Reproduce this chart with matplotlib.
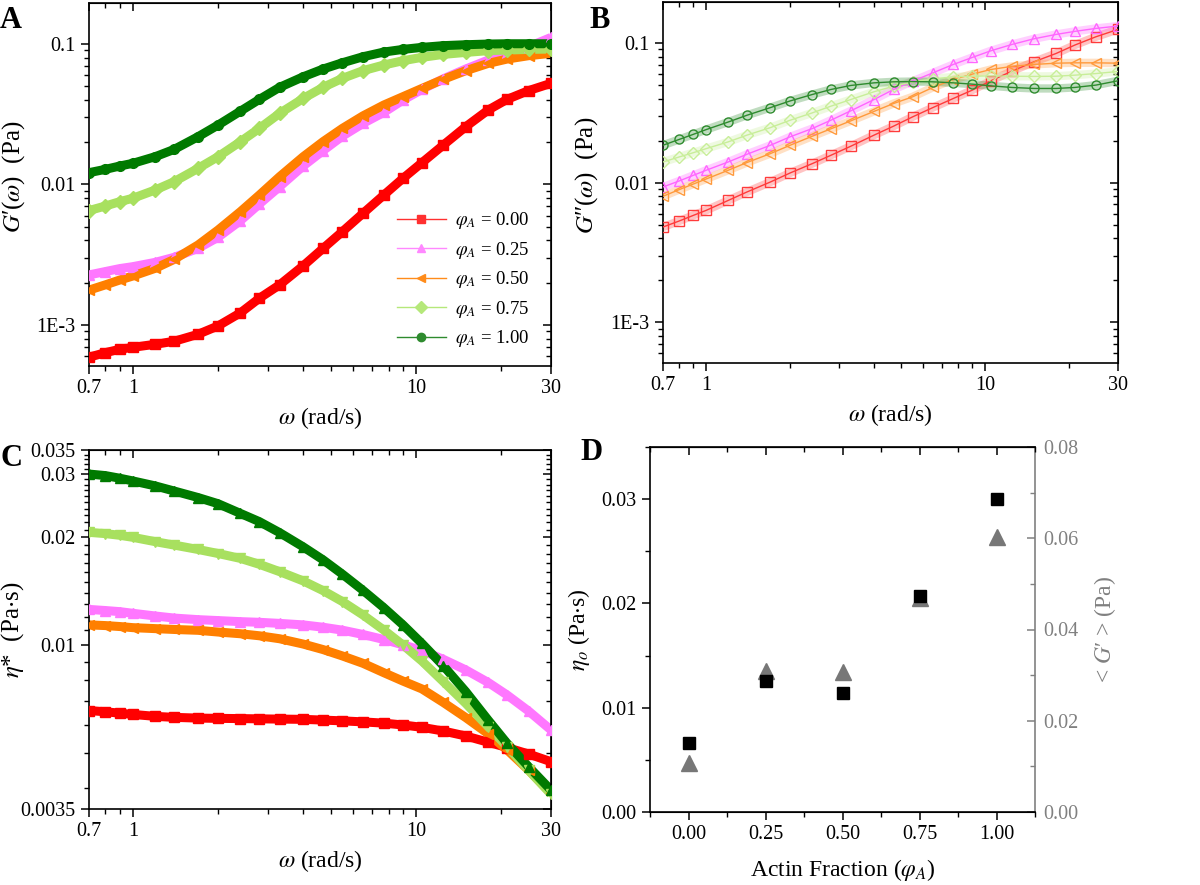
import matplotlib
matplotlib.use("Agg")
import matplotlib.pyplot as plt
from matplotlib.lines import Line2D
from matplotlib.ticker import FixedLocator, FixedFormatter, NullFormatter, MultipleLocator

plt.rcParams['font.family'] = ['Liberation Serif', 'DejaVu Serif']
plt.rcParams['mathtext.fontset'] = 'stix'

# ---------------- data ----------------
omega = [0.7, 0.8, 0.9, 1.0, 1.2, 1.4, 1.7, 2.0, 2.4, 2.8, 3.3, 4.0, 4.7, 5.5, 6.5, 7.7,
         9.0, 10.5, 12.5, 15.0, 18.0, 21.0, 25.0, 30.0]
phi_labels = ['0.00', '0.25', '0.50', '0.75', '1.00']

# G'(omega) (Pa)
Gp_000 = [5.89e-4, 6.35e-4, 6.71e-4, 6.93e-4, 7.28e-4, 7.65e-4, 8.58e-4, 9.84e-4, 1.22e-3, 1.55e-3,
          1.93e-3, 2.64e-3, 3.51e-3, 4.62e-3, 6.23e-3, 8.41e-3, 0.01106, 0.01429, 0.0191, 0.0258,
          0.0339, 0.0404, 0.0466, 0.0525]
Gp_025 = [2.27e-3, 2.40e-3, 2.52e-3, 2.60e-3, 2.79e-3, 3.03e-3, 3.51e-3, 4.21e-3, 5.53e-3, 7.27e-3,
          9.65e-3, 0.01355, 0.01742, 0.0221, 0.0272, 0.0326, 0.0399, 0.0475, 0.0566, 0.0664,
          0.0769, 0.0859, 0.0957, 0.1114]
Gp_050 = [1.77e-3, 1.93e-3, 2.09e-3, 2.23e-3, 2.53e-3, 2.93e-3, 3.71e-3, 4.74e-3, 6.41e-3, 8.42e-3,
          0.01137, 0.01578, 0.0202, 0.0251, 0.0308, 0.0368, 0.0422, 0.0483, 0.0561, 0.0646,
          0.0728, 0.0782, 0.0826, 0.0859]
Gp_075 = [6.52e-3, 7.03e-3, 7.55e-3, 7.98e-3, 9.14e-3, 0.01048, 0.01303, 0.01578, 0.0202, 0.0251,
          0.0321, 0.0410, 0.0492, 0.0570, 0.0646, 0.0709, 0.0761, 0.0804, 0.0844, 0.0872,
          0.0897, 0.0906, 0.0916, 0.0921]
Gp_100 = [0.01214, 0.01282, 0.01354, 0.01415, 0.01578, 0.01779, 0.0219, 0.0265, 0.0333, 0.0404,
          0.0492, 0.0585, 0.0664, 0.0736, 0.0812, 0.0877, 0.0916, 0.0947, 0.0974, 0.0989,
          0.1000, 0.1005, 0.1005, 0.1005]

# G''(omega) (Pa)
Gpp_000 = [4.81e-3, 5.31e-3, 5.83e-3, 6.33e-3, 7.46e-3, 8.57e-3, 0.01011, 0.01173, 0.01368, 0.0157,
           0.01823, 0.0219, 0.0254, 0.0296, 0.0345, 0.0401, 0.0460, 0.0537, 0.0630, 0.0735,
           0.0843, 0.0968, 0.1110, 0.1253]
Gpp_025 = [9.31e-3, 0.01028, 0.01129, 0.01227, 0.01407, 0.01597, 0.01853, 0.0213, 0.0244, 0.0280,
           0.0327, 0.0394, 0.0465, 0.0533, 0.0612, 0.0703, 0.0789, 0.0881, 0.0978, 0.1074,
           0.1154, 0.1213, 0.1274, 0.1325]
Gpp_050 = [7.98e-3, 8.91e-3, 9.78e-3, 0.01062, 0.01227, 0.01393, 0.01615, 0.01853, 0.0215, 0.0243,
           0.0277, 0.0324, 0.0369, 0.0412, 0.0481, 0.0548, 0.0599, 0.0647, 0.0681, 0.0703,
           0.0718, 0.0722, 0.0722, 0.0718]
Gpp_075 = [0.01406, 0.01528, 0.0164, 0.01753, 0.0196, 0.0219, 0.0248, 0.0280, 0.0316, 0.0353,
           0.0394, 0.0448, 0.0491, 0.0527, 0.0554, 0.0573, 0.0579, 0.0582, 0.0579, 0.0577,
           0.0579, 0.0589, 0.0605, 0.0626]
Gpp_100 = [0.01854, 0.0204, 0.0222, 0.0240, 0.0272, 0.0304, 0.0345, 0.0385, 0.0428, 0.0465,
           0.0497, 0.0519, 0.0528, 0.0530, 0.0528, 0.0519, 0.0508, 0.0494, 0.0481, 0.0473,
           0.0473, 0.0481, 0.0500, 0.0537]

# eta*(omega) (Pa s)
eta_000 = [6.58e-3, 6.53e-3, 6.47e-3, 6.42e-3, 6.34e-3, 6.30e-3, 6.27e-3, 6.26e-3, 6.25e-3, 6.24e-3,
           6.23e-3, 6.22e-3, 6.19e-3, 6.16e-3, 6.12e-3, 6.07e-3, 6.00e-3, 5.91e-3, 5.77e-3, 5.59e-3,
           5.37e-3, 5.19e-3, 4.98e-3, 4.74e-3]
eta_025 = [0.01259, 0.01250, 0.01241, 0.01228, 0.01207, 0.01191, 0.01179, 0.01172, 0.01164, 0.01159,
           0.01151, 0.01140, 0.01123, 0.01102, 0.01072, 0.01038, 0.01003, 9.67e-3, 9.14e-3, 8.54e-3,
           7.88e-3, 7.27e-3, 6.56e-3, 5.81e-3]
eta_050 = [0.01140, 0.01135, 0.01128, 0.01120, 0.01113, 0.01107, 0.01101, 0.01089, 0.01077, 0.01063,
           0.01043, 0.01008, 9.73e-3, 9.34e-3, 8.91e-3, 8.39e-3, 7.95e-3, 7.56e-3, 6.93e-3, 6.29e-3,
           5.67e-3, 5.11e-3, 4.49e-3, 3.87e-3]
eta_075 = [0.02064, 0.02047, 0.02025, 0.01999, 0.01944, 0.01902, 0.01849, 0.01802, 0.01746, 0.01681,
           0.01604, 0.01511, 0.01420, 0.01324, 0.01215, 0.01103, 0.01002, 9.04e-3, 7.92e-3, 6.89e-3,
           5.93e-3, 5.22e-3, 4.49e-3, 3.85e-3]
eta_100 = [0.0300, 0.0297, 0.0292, 0.0287, 0.0278, 0.0269, 0.0258, 0.0248, 0.0233, 0.0221,
           0.0206, 0.0188, 0.0173, 0.01578, 0.01423, 0.01273, 0.01140, 0.01012, 8.77e-3, 7.43e-3,
           6.19e-3, 5.33e-3, 4.59e-3, 3.95e-3]

# Panel D
actin_fraction = [0.0, 0.25, 0.5, 0.75, 1.0]
eta0 = [0.00665, 0.01254, 0.01138, 0.0207, 0.0300]
G_mean = [0.0107, 0.0309, 0.0307, 0.0469, 0.0603]

# ---------------- style ----------------
colors_fill = ['#FF0000', '#FF77FF', '#FF7F00', '#A8E05F', '#007A00']
colors_open = ['#FF3B3B', '#FF66FF', '#FF9A3C', '#C8EE99', '#2E8B2E']
markers_A = ['s', '^', '<', 'D', 'o']
markers_C = ['s', '^', '<', 'v', '^']

fig = plt.figure(figsize=(12, 8.85), dpi=100)
W, H = 1200.0, 885.0


def add_ax(x0, y0, x1, y1):
    return fig.add_axes([x0 / W, 1 - y1 / H, (x1 - x0) / W, (y1 - y0) / H])


TICK_FS = 14.5
LABEL_FS = 17
YLABEL_FS = 18

xmaj = [0.7, 1, 10, 30]
xmin = [0.8, 0.9, 2, 3, 4, 5, 6, 7, 8, 9, 20]


def style_freq_axes(ax, ymaj, ylabels, ymin):
    ax.set_xscale('log')
    ax.set_yscale('log')
    ax.set_xlim(0.7, 30)
    ax.xaxis.set_major_locator(FixedLocator(xmaj))
    ax.xaxis.set_major_formatter(FixedFormatter(['0.7', '1', '10', '30']))
    ax.xaxis.set_minor_locator(FixedLocator(xmin))
    ax.xaxis.set_minor_formatter(NullFormatter())
    ax.yaxis.set_major_locator(FixedLocator(ymaj))
    ax.yaxis.set_major_formatter(FixedFormatter(ylabels))
    ax.yaxis.set_minor_locator(FixedLocator(ymin))
    ax.yaxis.set_minor_formatter(NullFormatter())
    ax.tick_params(which='major', direction='out', length=6, width=1.1, labelsize=TICK_FS)
    ax.tick_params(which='minor', direction='out', length=3.5, width=1.0)
    for s in ax.spines.values():
        s.set_linewidth(1.2)
    top = ax.secondary_xaxis('top')
    top.xaxis.set_major_locator(FixedLocator(xmaj))
    top.xaxis.set_minor_locator(FixedLocator(xmin))
    top.xaxis.set_major_formatter(NullFormatter())
    top.xaxis.set_minor_formatter(NullFormatter())
    top.tick_params(which='major', direction='in', length=6, width=1.1)
    top.tick_params(which='minor', direction='in', length=3.5, width=1.0)
    right = ax.secondary_yaxis('right')
    right.yaxis.set_major_locator(FixedLocator(ymaj))
    right.yaxis.set_minor_locator(FixedLocator(ymin))
    right.yaxis.set_major_formatter(NullFormatter())
    right.yaxis.set_minor_formatter(NullFormatter())
    right.tick_params(which='major', direction='in', length=6, width=1.1)
    right.tick_params(which='minor', direction='in', length=3.5, width=1.0)
    ax.set_xlabel(r'$\omega$ (rad/s)', fontsize=LABEL_FS, labelpad=5)


gy_maj = [1e-3, 1e-2, 1e-1]
gy_lab = ['1E-3', '0.01', '0.1']
gy_min = [6e-4, 7e-4, 8e-4, 9e-4, 2e-3, 3e-3, 4e-3, 5e-3, 6e-3, 7e-3, 8e-3, 9e-3,
          0.02, 0.03, 0.04, 0.05, 0.06, 0.07, 0.08, 0.09]

# ---------------- Panel A ----------------
axA = add_ax(89, 3, 551, 366)
Gp = [Gp_000, Gp_025, Gp_050, Gp_075, Gp_100]
for vals, c, m in zip(Gp, colors_fill, markers_A):
    axA.plot(omega, vals, color=c, lw=6.5, solid_capstyle='butt', zorder=2)
    axA.plot(omega, vals, ls='none', marker=m, ms=7, color=c, mec=c, zorder=3)
axA.set_ylim(5.1e-4, 0.196)
style_freq_axes(axA, gy_maj, gy_lab, gy_min)
axA.set_ylabel("$G$′($\\omega$)  (Pa)", fontsize=YLABEL_FS)
axA.yaxis.set_label_coords(-0.135, 0.52)

handles = [Line2D([0], [0], color=c, lw=1, marker=m, ms=6, mec=c)
           for c, m in zip(['#FF3030', '#FF88FF', '#FF8C1A', '#B5E87A', '#2E8B2E'], markers_A)]
labels = [r'$\varphi_A$ = ' + p for p in phi_labels]
axA.legend(handles, labels, loc='lower right', bbox_to_anchor=(0.99, 0.0), frameon=False,
           fontsize=13.5, handlelength=2.6, labelspacing=0.45, handletextpad=0.5)

# ---------------- Panel B ----------------
axB = add_ax(663, 2, 1118, 363)
Gpp = [Gpp_000, Gpp_025, Gpp_050, Gpp_075, Gpp_100]
for vals, c, m in zip(Gpp, colors_open, markers_A):
    axB.plot(omega, vals, color=c, lw=6, alpha=0.3, solid_capstyle='butt', zorder=2)
    axB.plot(omega, vals, color=c, lw=1.0, marker=m, ms=6.5, mfc='none', mec=c, mew=1.0, zorder=3)
axB.set_ylim(5.1e-4, 0.197)
style_freq_axes(axB, gy_maj, gy_lab, gy_min)
axB.set_ylabel("$G$″($\\omega$)  (Pa)", fontsize=YLABEL_FS)
axB.yaxis.set_label_coords(-0.138, 0.52)

# ---------------- Panel C ----------------
axC = add_ax(89, 450, 551, 809)
etas = [eta_000, eta_025, eta_050, eta_075, eta_100]
for vals, c, m in zip(etas, colors_fill, markers_C):
    axC.plot(omega, vals, color=c, lw=6.5, solid_capstyle='butt', zorder=2)
    axC.plot(omega, vals, ls='none', marker=m, ms=7, color=c, mec=c, zorder=3)
axC.set_ylim(0.0035, 0.035)
cy_min = [0.004, 0.005, 0.006, 0.007, 0.008, 0.009, 0.011, 0.012, 0.013, 0.014, 0.015, 0.016,
          0.017, 0.018, 0.019, 0.021, 0.022, 0.023, 0.024, 0.025, 0.026, 0.027, 0.028, 0.029,
          0.031, 0.032, 0.033, 0.034]
style_freq_axes(axC, [0.0035, 0.01, 0.02, 0.03, 0.035],
                ['0.0035', '0.01', '0.02', '0.03', '0.035'], cy_min)
axC.set_ylabel(r"$\eta$*  (Pa$\cdot$s)", fontsize=YLABEL_FS)
axC.yaxis.set_label_coords(-0.136, 0.5)

# ---------------- Panel D ----------------
axD = add_ax(650, 447, 1035, 812)
axD.set_xlim(-0.125, 1.125)
axD.set_ylim(0, 0.035)
axD.plot(actin_fraction, eta0, ls='none', marker='s', ms=9, color='black', zorder=4)
axD2 = axD.twinx()
axD2.set_ylim(0, 0.08)
axD2.plot(actin_fraction, G_mean, ls='none', marker='^', ms=11, color='#777777', zorder=3)
axD.set_zorder(axD2.get_zorder() + 1)
axD.patch.set_visible(False)

axD.xaxis.set_major_locator(FixedLocator([0, 0.25, 0.5, 0.75, 1.0]))
axD.xaxis.set_major_formatter(FixedFormatter(['0.00', '0.25', '0.50', '0.75', '1.00']))
axD.xaxis.set_minor_locator(MultipleLocator(0.125))
axD.yaxis.set_major_locator(FixedLocator([0, 0.01, 0.02, 0.03]))
axD.yaxis.set_major_formatter(FixedFormatter(['0.00', '0.01', '0.02', '0.03']))
axD.yaxis.set_minor_locator(MultipleLocator(0.005))
axD.tick_params(which='major', direction='out', length=6, width=1.1, labelsize=TICK_FS)
axD.tick_params(which='minor', direction='out', length=3.5, width=1.0)
topD = axD.secondary_xaxis('top')
topD.xaxis.set_major_locator(FixedLocator([0, 0.25, 0.5, 0.75, 1.0]))
topD.xaxis.set_minor_locator(MultipleLocator(0.125))
topD.xaxis.set_major_formatter(NullFormatter())
topD.xaxis.set_minor_formatter(NullFormatter())
topD.tick_params(which='major', direction='in', length=6, width=1.1)
topD.tick_params(which='minor', direction='in', length=3.5, width=1.0)

gray = '#808080'
axD2.yaxis.set_major_locator(FixedLocator([0, 0.02, 0.04, 0.06, 0.08]))
axD2.yaxis.set_major_formatter(FixedFormatter(['0.00', '0.02', '0.04', '0.06', '0.08']))
axD2.yaxis.set_minor_locator(MultipleLocator(0.01))
axD2.tick_params(which='major', direction='in', length=6, width=1.1, labelsize=TICK_FS,
                 colors=gray, pad=6)
axD2.tick_params(which='minor', direction='in', length=3.5, width=1.0, colors=gray)
axD2.spines['right'].set_color(gray)
axD2.spines['left'].set_visible(False)
axD.spines['right'].set_visible(False)
for s in list(axD.spines.values()) + [axD2.spines['right']]:
    s.set_linewidth(1.2)
axD.set_ylabel(r"$\eta_o$ (Pa$\cdot$s)", fontsize=LABEL_FS)
axD.yaxis.set_label_coords(-0.151, 0.5)
axD2.set_ylabel("< $G$′ > (Pa)", fontsize=LABEL_FS, color=gray)
axD2.yaxis.set_label_coords(1.148, 0.5)
axD.set_xlabel(r"Actin Fraction ($\varphi_A$)", fontsize=LABEL_FS, labelpad=9)

# ---------------- Panel letters ----------------
for txt, x, y in [('A', 0, 6), ('B', 589, 6), ('C', 0, 444), ('D', 580, 438)]:
    fig.text(x / W, 1 - y / H, txt, fontsize=22, fontweight='bold', va='top', ha='left')

fig.savefig('out.png', dpi=100)
